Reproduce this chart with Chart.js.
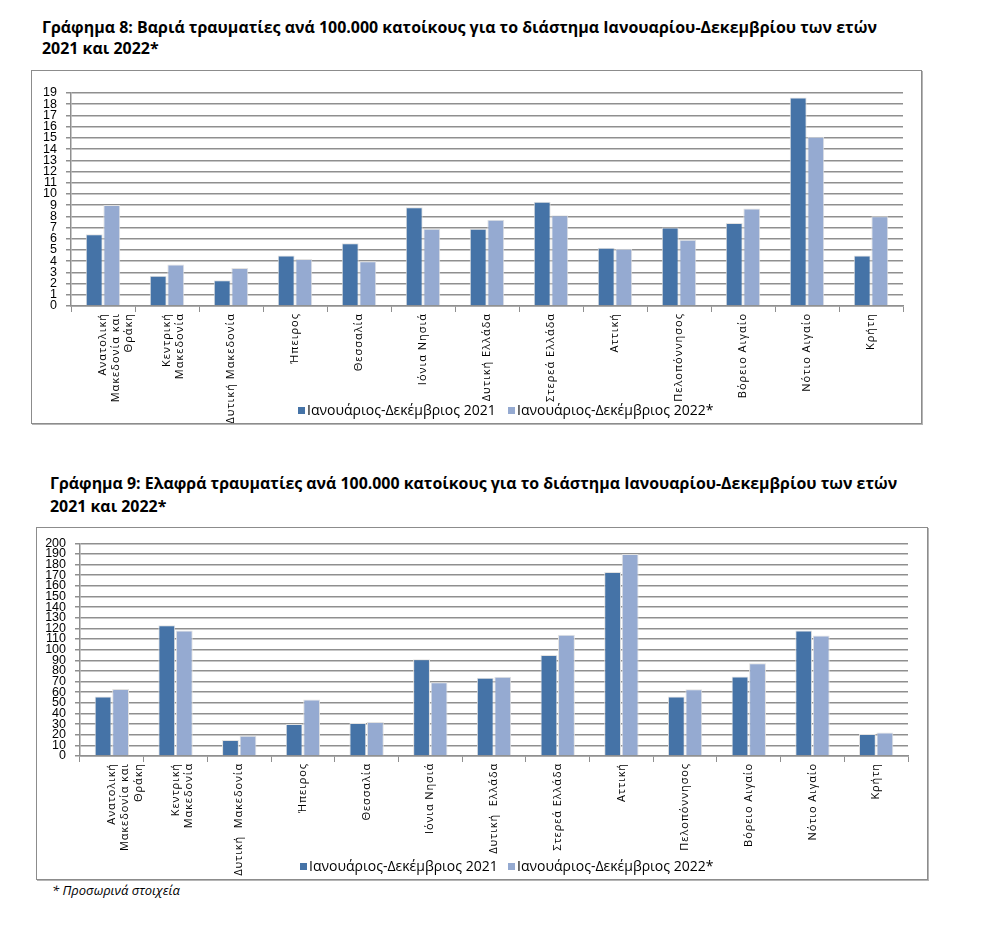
<!DOCTYPE html>
<html lang="el">
<head>
<meta charset="UTF-8">
<script src="https://cdn.jsdelivr.net/npm/chart.js"></script>
<style>
    body { margin: 0; background: #fff; font-family: "Open Sans", sans-serif; }
    .title { position: absolute; font-weight: bold; font-size: 16px; color: #000; white-space: nowrap; transform-origin: left center; }
    .box { position: absolute; border: 1px solid #8c8c8c; box-shadow: 1px 1px 0 #b5b5b5; }
    .box canvas { position: absolute; left: 0; top: 0; }
    .legend { position: absolute; font-size: 14px; white-space: nowrap; color: #000; }
    .legend span.sq { display: inline-block; width: 7px; height: 7px; margin-right: 2px; vertical-align: 1px; }
    .note { position: absolute; left: 52px; top: 881px; font-style: italic; font-size: 13px; }
</style>
</head>
<body>
    <div class="title" style="left:42px; top:16px;" data-w="835">Γράφημα 8: Βαριά τραυματίες ανά 100.000 κατοίκους για το διάστημα Ιανουαρίου-Δεκεμβρίου των ετών</div>
    <div class="title" style="left:42px; top:37px;">2021 και 2022*</div>
    <div class="box" style="left:31px; top:70px; width:889px; height:352px;">
        <canvas id="chart8" width="889" height="352"></canvas>
    </div>
    <div class="legend" style="left:298px; top:400px;"><span class="sq" style="background:#4573a7"></span>Ιανουάριος-Δεκέμβριος 2021</div>
    <div class="legend" style="left:508px; top:400px;"><span class="sq" style="background:#95aad1"></span>Ιανουάριος-Δεκέμβριος 2022*</div>

    <div class="title" style="left:50px; top:472px;" data-w="847">Γράφημα 9: Ελαφρά τραυματίες ανά 100.000 κατοίκους για το διάστημα Ιανουαρίου-Δεκεμβρίου των ετών</div>
    <div class="title" style="left:50px; top:495px;">2021 και 2022*</div>
    <div class="box" style="left:36px; top:527px; width:890px; height:351px;">
        <canvas id="chart9" width="890" height="351"></canvas>
    </div>
    <div class="legend" style="left:300px; top:856px;"><span class="sq" style="background:#4573a7"></span>Ιανουάριος-Δεκέμβριος 2021</div>
    <div class="legend" style="left:508px; top:856px;"><span class="sq" style="background:#95aad1"></span>Ιανουάριος-Δεκέμβριος 2022*</div>

    <div class="note">* Προσωρινά στοιχεία</div>

    <script>
        var regions8 = [["Ανατολική", "Μακεδονία και", "Θράκη"], ["Κεντρική", "Μακεδονία"], "Δυτική Μακεδονία", "Ήπειρος", "Θεσσαλία",
            "Ιόνια Νησιά", "Δυτική Ελλάδα", "Στερεά Ελλάδα", "Αττική", "Πελοπόννησος", "Βόρειο Αιγαίο", "Νότιο Αιγαίο", "Κρήτη"];
        var regions9 = [["Ανατολική", "Μακεδονία και", "Θράκη"], ["Κεντρική", "Μακεδονία"], "Δυτική  Μακεδονία", "Ήπειρος", "Θεσσαλία",
            "Ιόνια Νησιά", "Δυτική  Ελλάδα", "Στερεά Ελλάδα", "Αττική", "Πελοπόννησος", "Βόρειο Αιγαίο", "Νότιο Αιγαίο", "Κρήτη"];

        var seriesNames = ["Ιανουάριος-Δεκέμβριος 2021", "Ιανουάριος-Δεκέμβριος 2022*"];

        // Γράφημα 8 - βαριά τραυματίες
        var severe2021 = [6.4, 2.7, 2.3, 4.5, 5.6, 8.8, 6.9, 9.3, 5.2, 7.0, 7.4, 18.6, 4.5];
        var severe2022 = [9.0, 3.7, 3.4, 4.2, 4.0, 6.9, 7.7, 8.1, 5.1, 5.9, 8.7, 15.1, 8.0];
        var severeMax = 19;
        var severeStep = 1;

        // Γράφημα 9 - ελαφρά τραυματίες
        var light2021 = [56, 123, 15, 30, 31, 91, 73.5, 95, 173, 56, 74.7, 118, 20.7];
        var light2022 = [63, 118, 19, 53, 32, 69.4, 74.4, 114, 190, 62.7, 87.3, 113.3, 22.2];
        var lightMax = 200;
        var lightStep = 10;

        var dark = "#4573a7";
        var pale = "#95aad1";
        var gridColor = "#8f8f8f";

        // αραιά γράμματα στις ετικέτες του άξονα x (όπως στο πρωτότυπο)
        var spacedLabels = function (spacing) {
            return {
                id: "spacedLabels",
                afterLayout: function (chart) {
                    var s = chart.scales.x;
                    if (!s || s._spaced) return;
                    var orig = s.drawLabels;
                    s.drawLabels = function (area) {
                        var c = this.ctx;
                        c.save();
                        c.letterSpacing = spacing;
                        orig.call(this, area);
                        c.restore();
                    };
                    s._spaced = true;
                }
            };
        };

        var makeChart = function (id, labels, d1, d2, max, step, yWidth, xHeight, padTop, padRight, xFont, spacing) {
            var ctx = document.getElementById(id).getContext("2d");
            return new Chart(ctx, {
                type: "bar",
                data: {
                    labels: labels,
                    datasets: [
                        { label: seriesNames[0], data: d1, backgroundColor: dark, borderColor: "#e2e2e2", borderWidth: 1,
                          categoryPercentage: 0.55, barPercentage: 0.96 },
                        { label: seriesNames[1], data: d2, backgroundColor: pale, borderColor: "#e2e2e2", borderWidth: 1,
                          categoryPercentage: 0.55, barPercentage: 0.96 },
                    ],
                },
                options: {
                    responsive: false,
                    animation: false,
                    layout: { padding: { top: padTop, right: padRight, left: 0, bottom: 0 } },
                    plugins: { legend: { display: false }, tooltip: { enabled: false } },
                    scales: {
                        x: {
                            grid: { drawOnChartArea: false, drawTicks: true, tickLength: 6, color: gridColor, offset: true },
                            border: { color: gridColor, width: 1.5 },
                            ticks: {
                                autoSkip: false, minRotation: 90, maxRotation: 90, padding: 1,
                                color: "#000", font: xFont,
                            },
                            afterFit: function (scale) { scale.height = xHeight; },
                        },
                        y: {
                            min: 0, max: max,
                            grid: { color: gridColor, lineWidth: 1.5, tickLength: 5 },
                            border: { color: gridColor, width: 1.5 },
                            ticks: {
                                stepSize: step, padding: 9, color: "#000", autoSkip: false,
                                font: { family: "Liberation Sans", size: 12.5, lineHeight: 1 },
                            },
                            afterFit: function (scale) { scale.width = yWidth; },
                        },
                    },
                },
                plugins: [spacedLabels(spacing)],
            });
        };

        makeChart("chart8", regions8, severe2021, severe2022, severeMax, severeStep, 39, 117, 22, 18,
            { family: "Open Sans", size: 11, lineHeight: 1.18 }, "1px");
        makeChart("chart9", regions9, light2021, light2022, lightMax, lightStep, 43, 123, 11, 19,
            { family: "Open Sans", size: 11, lineHeight: 1.22 }, "0.9px");

        // τίτλοι: προσαρμογή πλάτους
        document.querySelectorAll(".title[data-w]").forEach(function (el) {
            var k = parseFloat(el.getAttribute("data-w")) / el.offsetWidth;
            el.style.transform = "scaleX(" + k + ")";
            var next = el.nextElementSibling;
            if (next && next.classList.contains("title")) next.style.transform = "scaleX(" + k + ")";
        });
    </script>
</body>
</html>
